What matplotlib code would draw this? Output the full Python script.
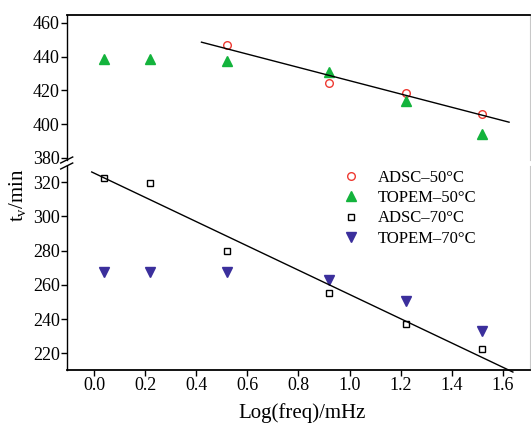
import matplotlib
matplotlib.use('Agg')
import matplotlib.pyplot as plt
from matplotlib.ticker import FormatStrFormatter

plt.rcParams['font.family'] = ['Liberation Serif', 'DejaVu Serif']
plt.rcParams['mathtext.fontset'] = 'custom'
plt.rcParams['mathtext.rm'] = 'Liberation Serif'
plt.rcParams['mathtext.it'] = 'Liberation Serif'

# data
logf = [0.04, 0.22, 0.52, 0.92, 1.22, 1.52]
adsc50_x = [0.52, 0.92, 1.22, 1.52]
adsc50 = [447.1, 424.6, 418.3, 406.3]
topem50 = [438.7, 438.7, 437.7, 430.7, 413.5, 394.0]
adsc70 = [322.3, 319.4, 279.6, 255.1, 237.0, 222.7]
topem70 = [267.7, 267.7, 267.4, 262.9, 250.4, 233.2]
fit50_x = [0.42, 1.625]
fit50_y = [448.6, 401.2]
fit70_x = [-0.01, 1.64]
fit70_y = [326.0, 209.0]

red = '#ee3a32'
green = '#13b33c'
blue = '#3b2f9c'

W, H = 531, 423
fig = plt.figure(figsize=(W / 100, H / 100), dpi=100)

def box(x0, y0, x1, y1):
    return [x0 / W, 1 - y1 / H, (x1 - x0) / W, (y1 - y0) / H]

ax_up = fig.add_axes(box(66.7, 15, 530, 160))
ax_lo = fig.add_axes(box(66.7, 166, 530, 370))

xlim = (-0.108, 1.707)
for ax in (ax_up, ax_lo):
    ax.set_xlim(*xlim)
    ax.spines['right'].set_color('#c8c8c8')
    ax.spines['left'].set_linewidth(1.0)
    ax.tick_params(direction='out', length=4, width=1, labelsize=13, pad=1,
                   right=False, top=False)

ax_up.set_ylim(378.8, 464.7)
ax_lo.set_ylim(210.2, 329.5)
ax_up.spines['bottom'].set_visible(False)
ax_lo.spines['top'].set_visible(False)
ax_up.spines['top'].set_linewidth(1.3)
ax_lo.spines['bottom'].set_linewidth(1.3)
ax_up.tick_params(axis='x', bottom=False, labelbottom=False)
ax_up.set_yticks(range(380, 461, 20))
ax_lo.set_yticks(range(220, 321, 20))
ax_lo.set_xticks([0.0, 0.2, 0.4, 0.6, 0.8, 1.0, 1.2, 1.4, 1.6])
ax_lo.xaxis.set_major_formatter(FormatStrFormatter('%.1f'))

h1, = ax_up.plot(adsc50_x, adsc50, 'o', ms=5.5, mfc='none', mec=red, mew=1.0,
                 ls='none', label='ADSC\u201350\u00b0C')
h2, = ax_up.plot(logf, topem50, '^', ms=7, color=green, ls='none',
                 label='TOPEM\u201350\u00b0C')
ax_up.plot(fit50_x, fit50_y, color='black', lw=1.0)

h3, = ax_lo.plot(logf, adsc70, 's', ms=5, mfc='none', mec='black', mew=1.0,
                 ls='none', label='ADSC\u201370\u00b0C')
h4, = ax_lo.plot(logf, topem70, 'v', ms=7, color=blue, ls='none',
                 label='TOPEM\u201370\u00b0C')
ax_lo.plot(fit70_x, fit70_y, color='black', lw=1.0, clip_on=False)

# break marks on the left spine
dx, dy = 6 / 463.3, 3.0
for ax, h, y in ((ax_up, 145.0, 0.0), (ax_lo, 204.0, 1.0)):
    ax.plot([-dx, dx], [y - dy / h, y + dy / h], color='black', lw=1.0,
            transform=ax.transAxes, clip_on=False)

ax_lo.legend(handles=[h1, h2, h3, h4], loc='upper left',
             bbox_to_anchor=(0.592, 0.98), frameon=False, fontsize=12,
             handlelength=1.2, handletextpad=1.0, labelspacing=0.25,
             borderpad=0, borderaxespad=0)

fig.text(302 / W, 1 - 413 / H, 'Log(freq)/mHz', ha='center', va='center',
         fontsize=15)
fig.text(18 / W, 1 - 195 / H, r't$_\mathrm{v}$/min', ha='center', va='center',
         rotation=90, fontsize=15)

fig.savefig('out.png', dpi=100)
